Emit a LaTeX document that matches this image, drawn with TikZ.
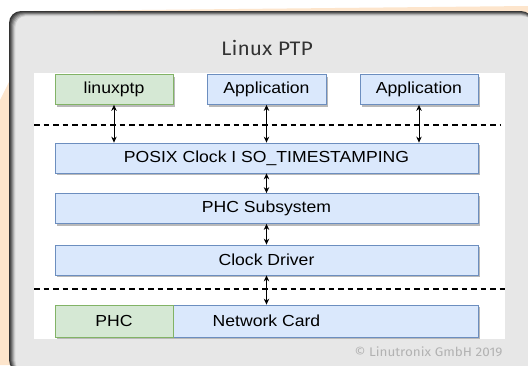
\documentclass[tikz,border=0pt]{standalone}
\usepackage{fontspec}
\usepackage{tikz}
\usetikzlibrary{arrows.meta,shadows}
\newfontfamily\boxfont{Liberation Sans}[FakeStretch=1.1]
\newfontfamily\titlefont{Fira Sans}[FakeStretch=1.08]
\definecolor{peach}{HTML}{FDE5CC}
\definecolor{panelgrey}{HTML}{E7E7E7}
\definecolor{bluefill}{HTML}{DAE8FC}
\definecolor{blueline}{HTML}{6C8EBF}
\definecolor{greenfill}{HTML}{D5E8D4}
\definecolor{greenline}{HTML}{82B366}
\definecolor{titlegrey}{HTML}{333333}

\begin{document}
\begin{tikzpicture}[x=1pt, y=-1pt,
        box/.style={draw=blueline, fill=bluefill, line width=0.8pt, minimum height=30pt, inner sep=0pt,
            font=\boxfont\fontsize{16}{18}\selectfont},
        layer/.style={box, drop shadow={shadow xshift=2pt, shadow yshift=-2pt, fill=gray!55, opacity=1}},
        greenbox/.style={draw=greenline, fill=greenfill},
        link/.style={{Stealth[length=6pt,width=5.5pt]}-{Stealth[length=6pt,width=5.5pt]}, line width=0.9pt},
        split/.style={dash pattern=on 5.5pt off 4pt, line width=1.3pt}]
    \useasboundingbox (0,0) rectangle (528,365);
    \clip (0,0) rectangle (528,365);
    % background and panel
    \fill[white] (0,0) rectangle (528,365);
    \fill[peach] (0,100) -- (45,11) -- (528,6) -- (528,365) -- (0,365) -- cycle;
    \foreach \d/\c in {0/black!80,1/black!70,2/black!58,3/black!45,4/black!32,5/black!20,6/black!12}
        \fill[\c, rounded corners=12pt] (9+\d,11+0.8*\d) rectangle (533,372);
    \fill[panelgrey, rounded corners=9pt] (16,16.6) rectangle (533,372);
    \fill[white] (34,73) rectangle (505,339);
    \node[font=\titlefont\fontsize{19.5}{22}\selectfont, text=titlegrey] (title) at (267,48) {Linux PTP};

    % user space
    \node[layer, greenbox, minimum width=118pt] (linuxptp) at (114,89.5) {linuxptp};
    \node[layer, minimum width=119pt] (app1) at (266.5,89.5) {Application};
    \node[layer, minimum width=118pt] (app2) at (419,89.5) {Application};
    \draw[split] (34,125) -- (500,125);

    % kernel
    \node[layer, minimum width=423pt] (posix) at (266.5,158) {POSIX Clock I SO\_TIMESTAMPING};
    \node[layer, minimum width=423pt] (phcsub) at (266.5,208.5) {PHC Subsystem};
    \node[layer, minimum width=423pt] (driver) at (266.5,260) {Clock Driver};
    \draw[split] (34,289) -- (505,289);

    % hardware
    \node[layer, minimum width=423pt, minimum height=32pt] (card) at (266.5,321) {Network Card};
    \node[box, greenbox, minimum width=118pt, minimum height=32pt] (phc) at (114,321) {PHC};

    \draw[link] (linuxptp.south) -- (linuxptp.south |- posix.north);
    \draw[link] (app1) -- (posix);
    \draw[link] (app2.south) -- (app2.south |- posix.north);
    \draw[link] (posix) -- (phcsub);
    \draw[link] (phcsub) -- (driver);
    \draw[link] (driver) -- (card);

    \node[anchor=base east, font=\titlefont\fontsize{12.5}{14}\selectfont, text=gray!60] (copyright) at (506,356) {© Linutronix GmbH 2019};
\end{tikzpicture}
\end{document}
